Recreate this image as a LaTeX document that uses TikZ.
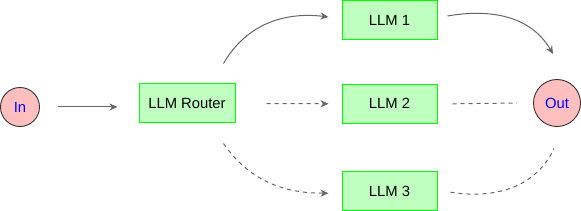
\documentclass[tikz,border=0pt]{standalone}
\usepackage{fontspec}
\setmainfont{Liberation Sans}
\usetikzlibrary{arrows.meta}
\definecolor{boxfill}{HTML}{BFFFBF}
\definecolor{boxline}{HTML}{00FF00}
\definecolor{portfill}{HTML}{FFBFBF}
\definecolor{portline}{HTML}{333333}
\definecolor{wire}{HTML}{666666}
\definecolor{porttext}{HTML}{0000FF}
\begin{document}
\begin{tikzpicture}[x=1pt, y=1pt,
  font=\fontsize{14.8}{17}\selectfont,
  llm/.style={draw=boxline, fill=boxfill, line width=1pt, rectangle,
    minimum width=95pt, minimum height=39pt, inner sep=0pt},
  port/.style={draw=portline, fill=portfill, line width=0.9pt, circle,
    inner sep=0pt, text=porttext},
  flow/.style={draw=wire, line width=1pt,
    -{Stealth[length=8pt, width=7pt, inset=2.5pt, fill=wire]}},
  idle/.style={dash pattern=on 4pt off 4pt}]
  \useasboundingbox (0,0) rectangle (581,-211);
  \node (in) [port, minimum size=39pt] at (20,-107) {In};
  \node (router) [llm, minimum width=96pt] at (187,-103.5) {LLM Router};
  \node (llm2) [llm] at (389.5,-103.8) {LLM 2};
  \node (llm1) [llm, node distance=83.8pt, above of=llm2] {LLM 1};
  \node (llm3) [llm, node distance=87.4pt, below of=llm2] {LLM 3};
  \node (out) [port, minimum size=47pt] at (557,-103) {Out};

  \draw [flow, shorten <=18pt, shorten >=21pt] (in.east) -- (in.east -| router.west);
  % router to the three models
  \draw [flow] ([xshift=-12pt, yshift=20pt]router.north east)
    to [out=60, in=173] ([xshift=-13pt, yshift=3pt]llm1.west);
  \draw [flow, idle] ([xshift=31pt]router.east) -- ([xshift=-13pt]llm2.west);
  \draw [flow, idle] ([xshift=-12pt, yshift=-20pt]router.south east)
    to [out=-55, in=180] ([xshift=-13pt, yshift=-2pt]llm3.west);
  % models to out
  \draw [flow] ([xshift=10pt, yshift=4pt]llm1.east)
    to [out=10, in=120] ([xshift=-4pt, yshift=25pt]out.north);
  \draw [draw=wire, line width=1pt, idle] ([xshift=15pt]llm2.east) -- ([xshift=-16pt]out.west);
  \draw [draw=wire, line width=1pt, idle] ([xshift=13pt, yshift=-1pt]llm3.east)
    to [out=-9, in=-115] ([xshift=-3pt, yshift=-21.5pt]out.south);
\end{tikzpicture}
\end{document}
